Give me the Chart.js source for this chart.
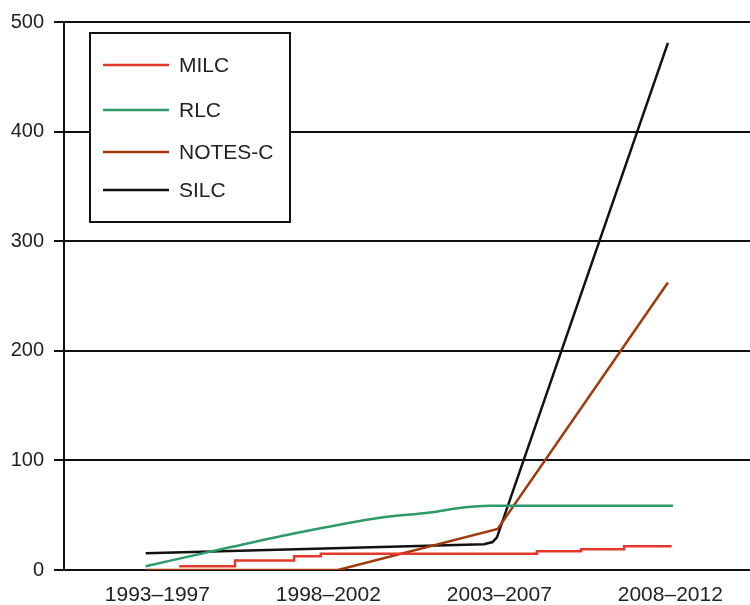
<!DOCTYPE html>
<html>
<head>
<meta charset="utf-8">
<script src="https://cdn.jsdelivr.net/npm/chart.js@4/dist/chart.umd.min.js"></script>
<style>
  html, body { margin: 0; padding: 0; background: #fff; }
  #chart { display: block; }
</style>
</head>
<body>
<canvas id="chart" width="750" height="605"></canvas>
<script>
// categories on the x axis and the year each one is centred on
const categories = ['1993\u20131997', '1998\u20132002', '2003\u20132007', '2008\u20132012'];
const categoryYears = [1995, 2000, 2005, 2010];
const yTicks = [0, 100, 200, 300, 400, 500];

// series values (x in years, y in counts)
const milcX = [1995.64, 1997.27, 1999.0, 1999.78, 2006.1, 2007.39, 2008.65, 2010.04];
const milcY = [3.5, 8.6, 12.5, 14.8, 17.0, 19.0, 21.7, 21.7];

const rlcX = [1994.66, 1997.12, 1999.17, 2001.51, 2002.97, 2003.94, 2004.72, 2010.08];
const rlcY = [3.5, 20.7, 34.4, 47.7, 52.5, 57.0, 58.6, 58.6];

const notesX = [1994.66, 2000.28, 2004.95, 2009.93];
const notesY = [0, 0, 37.5, 262.3];

const silcX = [1994.66, 2004.55, 2004.8, 2004.93, 2009.93];
const silcY = [15.3, 23.6, 25.5, 29.8, 481];

const seriesNames = ['MILC', 'RLC', 'NOTES-C', 'SILC'];
const seriesColors = ['#e5382a', '#2c9a6a', '#a3380c', '#111111'];

function toPoints(xs, ys) {
    return xs.map((x, i) => ({ x: x, y: ys[i] }));
}

const FONT = '"Liberation Sans", Arial, Helvetica, sans-serif';

// legend box drawn inside the plot, like the original
const boxLegend = {
    id: 'boxLegend',
    afterDraw(chart) {
        const ctx = chart.ctx;
        const rowY = [65, 110, 152, 190];
        ctx.save();
        ctx.fillStyle = '#fff';
        ctx.fillRect(90, 33, 200, 189);
        ctx.lineWidth = 2;
        ctx.strokeStyle = '#111';
        ctx.strokeRect(90, 33, 200, 189);
        chart.data.datasets.forEach((ds, i) => {
            ctx.strokeStyle = ds.borderColor;
            ctx.lineWidth = 2.5;
            ctx.beginPath();
            ctx.moveTo(103, rowY[i]);
            ctx.lineTo(169, rowY[i]);
            ctx.stroke();
            ctx.fillStyle = '#222';
            ctx.font = '21px ' + FONT;
            ctx.textBaseline = 'middle';
            ctx.fillText(ds.label, 179, rowY[i] + 1);
        });
        ctx.restore();
    }
};

new Chart(document.getElementById('chart'), {
    type: 'line',
    data: {
        datasets: [
            {
                label: seriesNames[0],
                data: toPoints(milcX, milcY),
                borderColor: seriesColors[0],
                stepped: 'before'
            },
            {
                label: seriesNames[1],
                data: toPoints(rlcX, rlcY),
                borderColor: seriesColors[1],
                cubicInterpolationMode: 'monotone'
            },
            {
                label: seriesNames[2],
                data: toPoints(notesX, notesY),
                borderColor: seriesColors[2]
            },
            {
                label: seriesNames[3],
                data: toPoints(silcX, silcY),
                borderColor: seriesColors[3]
            }
        ]
    },
    options: {
        responsive: false,
        animation: false,
        layout: { padding: { top: 17, right: 0, left: 0, bottom: 0 } },
        elements: {
            point: { radius: 0 },
            line: { borderWidth: 2.5, tension: 0, fill: false }
        },
        plugins: {
            legend: { display: false },
            tooltip: { enabled: false }
        },
        scales: {
            x: {
                type: 'linear',
                min: 1992.27,
                max: 2012.33,
                afterBuildTicks(scale) {
                    scale.ticks = categoryYears.map(v => ({ value: v }));
                },
                afterFit(scale) { scale.height = 35; },
                grid: { display: false, drawTicks: false },
                border: { display: false },
                ticks: {
                    padding: 13,
                    maxRotation: 0,
                    autoSkip: false,
                    color: '#222',
                    font: { family: FONT, size: 21 },
                    callback: v => categories[categoryYears.indexOf(v)]
                }
            },
            y: {
                min: 0,
                max: 500,
                afterBuildTicks(scale) {
                    scale.ticks = yTicks.map(v => ({ value: v }));
                },
                afterFit(scale) { scale.width = 64; },
                grid: { color: '#111', lineWidth: 2, tickLength: 10, drawTicks: true },
                border: { display: true, color: '#111', width: 2 },
                ticks: {
                    padding: 10,
                    color: '#222',
                    font: { family: FONT, size: 20 }
                }
            }
        }
    },
    plugins: [boxLegend]
});
</script>
</body>
</html>
